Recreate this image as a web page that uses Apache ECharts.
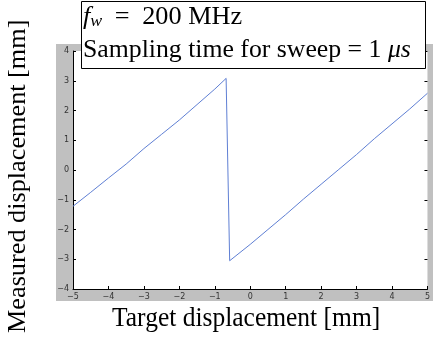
<!DOCTYPE html>
<html>
<head>
<meta charset="utf-8">
<script src="https://cdn.jsdelivr.net/npm/echarts@6/dist/echarts.min.js"></script>
<style>
  html, body { margin: 0; padding: 0; background: #fff; }
  #chart { width: 433px; height: 337px; }
</style>
</head>
<body>
<div id="chart"></div>
<script>
// Target displacement [mm] vs measured displacement [mm]
const targetX = [-5, -4.5, -4, -3.5, -3, -2.5, -2, -1.5, -1, -0.68,
                 -0.58, 0, 0.5, 1, 1.5, 2, 2.5, 3, 3.5, 4, 4.5, 5];
const measuredY = [-1.22, -0.75, -0.27, 0.2, 0.72, 1.2, 1.68, 2.2, 2.72, 3.08,
                   -3.05, -2.5, -2.0, -1.5, -0.98, -0.48, 0.02, 0.52, 1.05, 1.55, 2.05, 2.58];
const xTicks = [-5, -4, -3, -2, -1, 0, 1, 2, 3, 4, 5];
const yTicks = [-4, -3, -2, -1, 0, 1, 2, 3, 4];

const points = targetX.map((x, i) => [x, measuredY[i]]);
const fmt = v => (v < 0 ? '\u2212' + Math.abs(v) : String(v));
const tickFont = { fontSize: 8, color: '#333', fontFamily: 'DejaVu Sans' };
const tickStyle = { show: true, inside: true, length: 3, lineStyle: { color: '#000' } };
const serif = 'Liberation Serif';

const chart = echarts.init(document.getElementById('chart'), null, { renderer: 'canvas' });
chart.setOption({
  animation: false,
  backgroundColor: '#fff',
  grid: { left: 73, right: 3, top: 51, bottom: 48, show: true, backgroundColor: '#fff', borderWidth: 0 },
  xAxis: [{
    type: 'value', min: xTicks[0], max: xTicks[xTicks.length - 1], interval: 1,
    axisLine: { show: true, onZero: false, lineStyle: { color: '#000', width: 1 } },
    axisTick: tickStyle,
    axisLabel: Object.assign({ margin: 4, formatter: fmt, showMaxLabel: true }, tickFont),
    splitLine: { show: false }
  }],
  yAxis: [{
    type: 'value', min: yTicks[0], max: yTicks[yTicks.length - 1], interval: 1,
    axisLine: { show: true, onZero: false, lineStyle: { color: '#000', width: 1 } },
    axisTick: tickStyle,
    axisLabel: Object.assign({ margin: 4, formatter: fmt }, tickFont),
    splitLine: { show: false }
  }, {
    type: 'value', min: yTicks[0], max: yTicks[yTicks.length - 1], interval: 1, position: 'right',
    axisLine: { show: false, onZero: false },
    axisTick: tickStyle,
    axisLabel: { show: false },
    splitLine: { show: false }
  }],
  series: [{
    type: 'line',
    data: points,
    showSymbol: false,
    lineStyle: { color: '#5f7fd4', width: 1 },
    z: 5
  }],
  graphic: [
    { type: 'rect', z: -100, silent: true,
      shape: { x: 56, y: 44, width: 377, height: 257 }, style: { fill: '#c0c0c0' } },
    { type: 'rect', z: 100, silent: true,
      shape: { x: 81.5, y: 1.5, width: 344, height: 67 }, style: { fill: '#fff', stroke: '#000', lineWidth: 1 } },
    { type: 'text', z: 101, silent: true, x: 83, y: 4, scaleX: 1.05,
      style: {
        text: '{i|f}{sub|w}{eq|=}{n|200 MHz}',
        rich: {
          i: { fontFamily: serif, fontStyle: 'italic', fontSize: 25, fill: '#000' },
          sub: { fontFamily: serif, fontStyle: 'italic', fontSize: 17, fill: '#000', verticalAlign: 'bottom', padding: [9, 0, 0, 0] },
          eq: { fontFamily: serif, fontSize: 25, fill: '#000', padding: [0, 12, 0, 12] },
          n: { fontFamily: serif, fontSize: 25, fill: '#000' }
        }
      } },
    { type: 'text', z: 101, silent: true, x: 83, y: 38, scaleX: 1.03,
      style: {
        text: '{n|Sampling time for sweep = 1 }{i|\u03bcs}',
        rich: {
          n: { fontFamily: serif, fontSize: 25, fill: '#000' },
          i: { fontFamily: serif, fontStyle: 'italic', fontSize: 25, fill: '#000' }
        }
      } },
    { type: 'text', z: 101, silent: true, x: 112, y: 305, scaleY: 1.08,
      style: { text: 'Target displacement [mm]', fontFamily: serif, fontSize: 25.5, fill: '#000' } },
    { type: 'text', z: 101, silent: true, x: 6, y: 333, rotation: Math.PI / 2, scaleX: 1.05,
      style: { text: 'Measured displacement [mm]', fontFamily: serif, fontSize: 25, fill: '#000', align: 'left', verticalAlign: 'top' } }
  ]
});
</script>
</body>
</html>
